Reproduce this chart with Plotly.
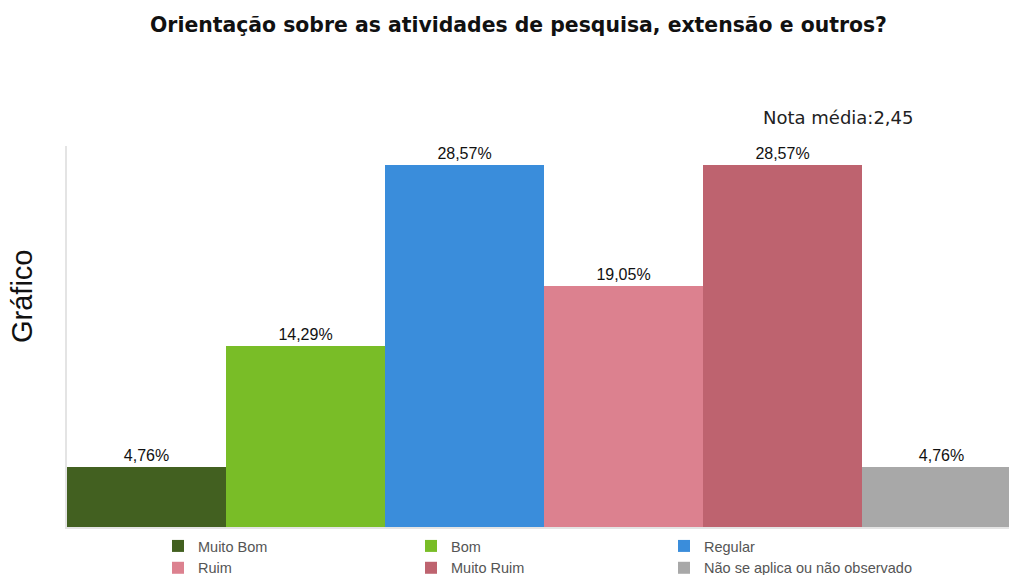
import plotly.graph_objects as go

categories = ["Muito Bom", "Bom", "Regular", "Ruim", "Muito Ruim", "Não se aplica ou não observado"]
values = [4.76, 14.29, 28.57, 19.05, 28.57, 4.76]
labels = ["4,76%", "14,29%", "28,57%", "19,05%", "28,57%", "4,76%"]
colors = ["#426020", "#79bd27", "#3a8ddb", "#dc818f", "#be636f", "#a8a8a8"]

title_text = "Orientação sobre as atividades de pesquisa, extensão e outros?"
note_text = "Nota média:2,45"
axis_title = "Gráfico"

fig = go.Figure()
for i, (cat, val, lab, col) in enumerate(zip(categories, values, labels, colors)):
    fig.add_trace(go.Bar(
        x=[i], y=[val], name=cat, width=1,
        marker=dict(color=col, line=dict(width=0)),
        text=[lab], textposition="outside",
        textfont=dict(family="Liberation Sans, Arial", size=16, color="#111111"),
        hoverinfo="skip",
    ))

W, H = 1009, 575
L, R, T, B = 67, 0, 146, 48
pw = W - L - R
ph = H - T - B

fig.update_layout(
    width=W, height=H, autosize=False,
    margin=dict(l=L, r=R, t=T, b=B, autoexpand=False),
    paper_bgcolor="white", plot_bgcolor="white",
    bargap=0,
    showlegend=True,
    legend=dict(
        orientation="h",
        x=(158 - L) / pw, xanchor="left",
        y=-(530 - (T + ph)) / ph, yanchor="top",
        entrywidth=208, entrywidthmode="pixels",
        font=dict(family="Liberation Sans, Arial", size=14.5, color="#555555"),
        traceorder="normal",
        itemclick=False, itemdoubleclick=False,
        tracegroupgap=0,
    ),
    xaxis=dict(range=[-0.5, 5.5 - 12 / 159], showgrid=False, zeroline=False,
               showticklabels=False, ticks="", showline=True,
               linecolor="#e4e4e4", linewidth=2, fixedrange=True),
    yaxis=dict(range=[0, 30.07], showgrid=False, zeroline=False,
               showticklabels=False, ticks="", showline=True,
               linecolor="#e4e4e4", linewidth=2, fixedrange=True),
    annotations=[
        dict(text="<b>" + title_text + "</b>", xref="paper", yref="paper",
             x=(518 - L) / pw, y=1 + (T - 25) / ph, xanchor="center", yanchor="middle",
             showarrow=False, font=dict(family="DejaVu Sans", size=20.4, color="#111111")),
        dict(text=note_text, xref="paper", yref="paper",
             x=(838 - L) / pw, y=1 + (T - 117) / ph, xanchor="center", yanchor="middle",
             showarrow=False, font=dict(family="DejaVu Sans", size=18, color="#222222")),
        dict(text=axis_title, xref="paper", yref="paper",
             x=(22 - L) / pw, y=1 - (297 - T) / ph, xanchor="center", yanchor="middle",
             textangle=-90, showarrow=False,
             font=dict(family="Liberation Sans, Arial", size=29, color="#111111")),
    ],
)

fig.write_html(
    "out.html",
    config={"responsive": False, "displayModeBar": False},
    post_script="document.body.style.margin='0';document.body.style.overflow='hidden';",
)
